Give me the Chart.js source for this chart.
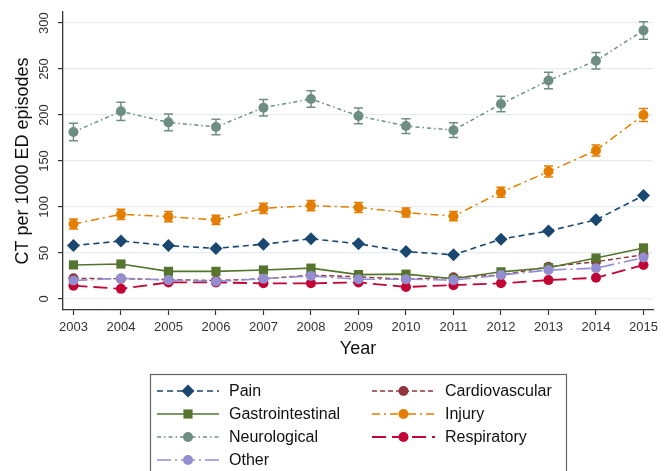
<!DOCTYPE html>
<html><head><meta charset="utf-8">
<script src="https://cdn.jsdelivr.net/npm/chart.js@4"></script>
<style>html,body{margin:0;padding:0;background:#fff}#c{display:block}</style>
</head><body>
<canvas id="c" width="671" height="471"></canvas>
<script>
const years = [2003,2004,2005,2006,2007,2008,2009,2010,2011,2012,2013,2014,2015];
const yTickValues = [0,50,100,150,200,250,300];
const pain = [58,63,58,55,59.5,65.5,60,51.5,48,65,74,86,112.5];
const gastro = [37,38,30,30,31.5,33.5,26.5,27,22,29.5,34,44.5,55.5];
const cardio = [22.5,22,21,20,22,26,24,21.5,23.5,26,35,40.5,48];
const injury = [81.5,92,89.5,86,98.5,101.5,99.5,94,90,116,138.5,161.5,200];
const neuro = [181.5,204,192,187,208,217.5,199,188,183.5,212,237.5,259,292];
const respiratory = [14.5,11,18,18,17,17,18,13,15,17,20.5,23,37];
const other = [20,22.5,20.5,19,22,25,21.5,21.5,20.5,26,31.5,33.5,45];
const neuroErr = [9.5,10,9,8.5,9,9,8.5,8,8,8.5,9,9,9.5];
const injuryErr = [5.5,5.5,5.5,5,5.5,5.5,5.5,5,5,5.5,6,6,7];

const seriesDefs = [
  {label:'Pain', data:pain, color:'#1a476f', dash:[6,4], style:'rectRot', r:6.5, w:1.6},
  {label:'Cardiovascular', data:cardio, color:'#90353b', dash:[5,3], style:'circle', r:5, w:1.4},
  {label:'Gastrointestinal', data:gastro, color:'#55752f', dash:[], style:'rect', r:6.5, w:1.6},
  {label:'Injury', data:injury, color:'#e37e00', dash:[8,4,2,4], style:'circle', r:5, w:1.5, err:injuryErr},
  {label:'Neurological', data:neuro, color:'#6e8e84', dash:[4,3,1.5,3], style:'circle', r:5, w:1.5, err:neuroErr},
  {label:'Respiratory', data:respiratory, color:'#c10534', dash:[14,6], style:'circle', r:5, w:1.8},
  {label:'Other', data:other, color:'#938dd2', dash:[14,4,2,4], style:'circle', r:5, w:1.6}
];

const datasets = seriesDefs.map((s, idx) => ({
  label: s.label,
  data: years.map((y,i)=>({x:y, y:s.data[i]})),
  borderColor: s.color, backgroundColor: s.color,
  borderDash: s.dash, borderWidth: s.w,
  pointStyle: s.style, pointRadius: s.r, pointHoverRadius: s.r,
  pointBorderWidth: 0, pointBackgroundColor: s.color,
  tension: 0, fill: false, errArr: s.err || null,
  order: seriesDefs.length - idx
}));

function drawMarker(ctx, style, x, y, r, color){
  ctx.save(); ctx.fillStyle = color; ctx.beginPath();
  if(style==='circle'){ ctx.arc(x,y,r,0,Math.PI*2); }
  else if(style==='rect'){ const s=Math.SQRT1_2*r; ctx.rect(x-s,y-s,2*s,2*s); }
  else if(style==='rectRot'){ ctx.moveTo(x,y-r); ctx.lineTo(x+r,y); ctx.lineTo(x,y+r); ctx.lineTo(x-r,y); ctx.closePath(); }
  ctx.fill(); ctx.restore();
}

const decor = {
  id:'decor',
  beforeDatasetsDraw(chart){
    const ctx = chart.ctx, xs = chart.scales.x, ys = chart.scales.y;
    chart.data.datasets.forEach(ds=>{
      if(!ds.errArr) return;
      ctx.save(); ctx.strokeStyle = ds.borderColor; ctx.lineWidth = 1.5; ctx.setLineDash([]);
      ds.data.forEach((p,i)=>{
        const px = xs.getPixelForValue(p.x);
        const t = ys.getPixelForValue(p.y + ds.errArr[i]);
        const b = ys.getPixelForValue(p.y - ds.errArr[i]);
        ctx.beginPath();
        ctx.moveTo(px,t); ctx.lineTo(px,b);
        ctx.moveTo(px-4.5,t); ctx.lineTo(px+4.5,t);
        ctx.moveTo(px-4.5,b); ctx.lineTo(px+4.5,b);
        ctx.stroke();
      });
      ctx.restore();
    });
  },
  afterDraw(chart){
    const ctx = chart.ctx, ys = chart.scales.y;
    ctx.save();
    ctx.fillStyle = '#333'; ctx.font = '13px "Liberation Sans", Arial, sans-serif';
    ctx.textAlign = 'center'; ctx.textBaseline = 'middle';
    yTickValues.forEach(v=>{
      const py = ys.getPixelForValue(v);
      ctx.save(); ctx.translate(44.5, py); ctx.rotate(-Math.PI/2);
      ctx.fillText(String(v), 0, 0); ctx.restore();
    });
    ctx.fillStyle = '#111'; ctx.font = '18px "Liberation Sans", Arial, sans-serif';
    ctx.save(); ctx.translate(23, 161); ctx.rotate(-Math.PI/2);
    ctx.fillText('CT per 1000 ED episodes', 0, 0); ctx.restore();
    ctx.fillText('Year', 358, 349);
    ctx.strokeStyle = '#666'; ctx.lineWidth = 1.2; ctx.setLineDash([]);
    ctx.strokeRect(150.5, 374.5, 416, 120);
    const order = [['Pain',0,0],['Gastrointestinal',0,1],['Neurological',0,2],['Other',0,3],
                   ['Cardiovascular',1,0],['Injury',1,1],['Respiratory',1,2]];
    const rowsY = [391, 414, 437, 460];
    const cols = [{x0:157,x1:219,tx:229},{x0:372,x1:435,tx:445}];
    ctx.font = '16px "Liberation Sans", Arial, sans-serif';
    ctx.textAlign = 'left'; ctx.textBaseline = 'middle';
    order.forEach(([lab,c,r])=>{
      const s = seriesDefs.find(d=>d.label===lab);
      const col = cols[c], y = rowsY[r];
      ctx.save(); ctx.strokeStyle = s.color; ctx.lineWidth = s.w; ctx.setLineDash(s.dash);
      ctx.beginPath(); ctx.moveTo(col.x0, y); ctx.lineTo(col.x1, y); ctx.stroke(); ctx.restore();
      drawMarker(ctx, s.style, (col.x0+col.x1)/2, y, s.r, s.color);
      ctx.fillStyle = '#111'; ctx.fillText(lab, col.tx, y+1);
    });
    ctx.restore();
  }
};

new Chart(document.getElementById('c'), {
  type:'line',
  data:{datasets},
  options:{
    responsive:false, animation:false, devicePixelRatio:1,
    layout:{padding:{top:12,right:18,left:0,bottom:0}},
    plugins:{legend:{display:false}, tooltip:{enabled:false}},
    scales:{
      x:{type:'linear', min:2002.78, max:2015.2,
         afterBuildTicks(s){ s.ticks = years.map(v=>({value:v})); },
         afterFit(s){ s.height = 161; },
         grid:{drawOnChartArea:false, drawTicks:true, tickLength:5, tickColor:'#333', tickWidth:1.2},
         border:{color:'#333', width:1.3},
         ticks:{color:'#333', padding:5, maxRotation:0, autoSkip:false,
                font:{family:'"Liberation Sans", Arial, sans-serif', size:13},
                callback:v=>String(v)}},
      y:{type:'linear', min:-12, max:312,
         afterBuildTicks(s){ s.ticks = yTickValues.map(v=>({value:v})); },
         afterFit(s){ s.width = 63; },
         grid:{color:'#e4edf0', lineWidth:1.2, drawTicks:true, tickLength:5, tickColor:'#333', tickWidth:1.2},
         border:{color:'#333', width:1.3},
         ticks:{display:false}}
    }
  },
  plugins:[decor]
});
</script>
</body></html>
